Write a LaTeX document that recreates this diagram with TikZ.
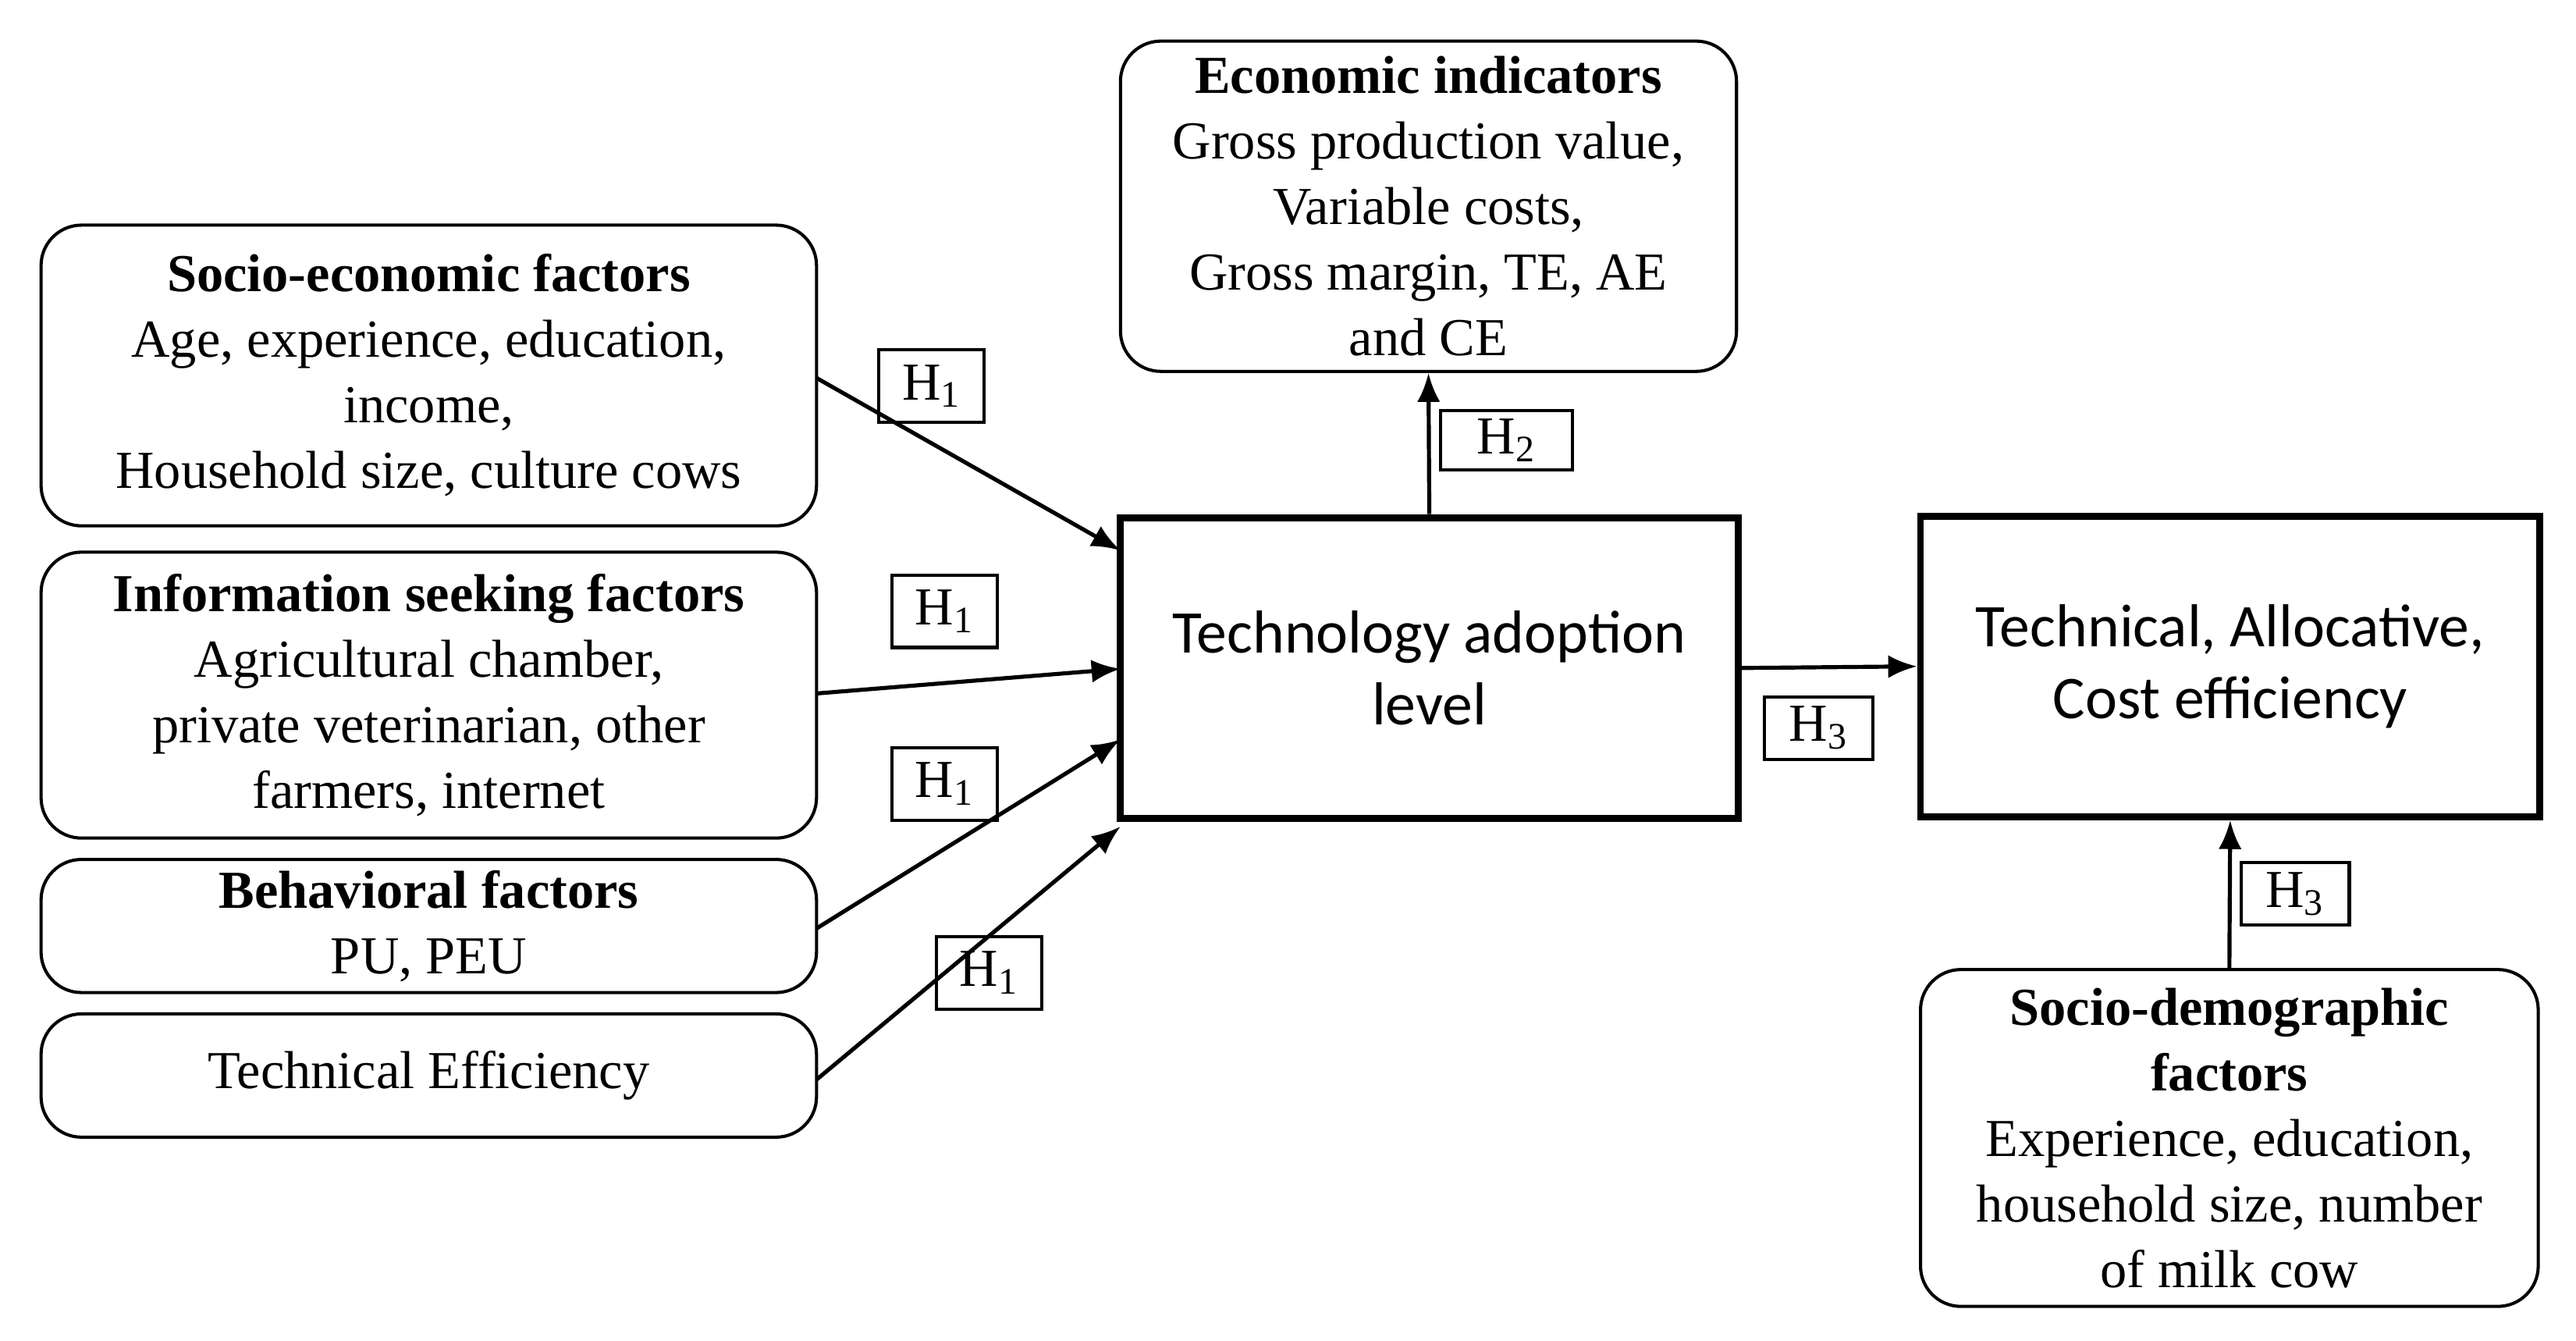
\documentclass[tikz,border=0pt]{standalone}
\usepackage{fontspec}
\setmainfont{Liberation Serif}
\newfontfamily\carl{Carlito}
\usetikzlibrary{arrows.meta}
\begin{document}
\begin{tikzpicture}[x=0.02cm,y=-0.02cm,
    factor/.style={draw, line width=1.1pt, rounded corners=14pt, align=center,
        font=\fontsize{18.5}{22.7}\selectfont, inner sep=0pt},
    level/.style={draw, line width=2.4pt, align=center,
        font=\carl\fontsize{21}{25}\selectfont, inner sep=0pt},
    hyp/.style={draw, line width=1.1pt, inner sep=0pt, font=\fontsize{18.5}{20}\selectfont},
    link/.style={line width=1.4pt, -{Latex[length=10pt,width=8pt]}}
]
\useasboundingbox (0,0) rectangle (1568,816);
    % factor boxes
    \node[factor, minimum width=472*0.02cm, minimum height=183*0.02cm] (socio) at (261,228.5)
        {\textbf{Socio-economic factors}\\Age, experience, education,\\income,\\Household size, culture cows};
    \node[factor, minimum width=472*0.02cm, minimum height=174*0.02cm] (info) at (261,423)
        {\textbf{Information seeking factors}\\Agricultural chamber,\\private veterinarian, other\\farmers, internet};
    \node[factor, minimum width=472*0.02cm, minimum height=81*0.02cm] (behav) at (261,563.5)
        {\textbf{Behavioral factors}\\PU, PEU};
    \node[factor, minimum width=472*0.02cm, minimum height=75*0.02cm] (techeff) at (261,654.5)
        {Technical Efficiency};
    \node[factor, minimum width=375*0.02cm, minimum height=201*0.02cm] (econ) at (869.5,125.5)
        {\textbf{Economic indicators}\\Gross production value,\\Variable costs,\\Gross margin, TE, AE\\and CE};
    \node[factor, minimum width=376*0.02cm, minimum height=205*0.02cm] (demo) at (1357,692.5)
        {\textbf{Socio-demographic}\\\textbf{factors}\\Experience, education,\\household size, number\\of milk cow};
    % central boxes
    \node[level, minimum width=376*0.02cm, minimum height=183*0.02cm] (adopt) at (870,406.5)
        {Technology adoption\\level};
    \node[level, minimum width=377*0.02cm, minimum height=183*0.02cm] (effic) at (1357.5,405.5)
        {Technical, Allocative,\\Cost efficiency};
    % arrow ends
    \coordinate (s1) at (497,230);
    \coordinate (t1) at (682,335);
    \coordinate (s2) at (497,422);
    \coordinate (t2) at (682,407);
    \coordinate (s3) at (497,565);
    \coordinate (t3) at (682,450);
    \coordinate (s4) at (497,657);
    \coordinate (t4) at (682,503);
    \draw[link] (s1) -- (t1);
    \draw[link] (s2) -- (t2);
    \draw[link] (s3) -- (t3);
    \draw[link] (s4) -- (t4);
    \draw[link] (adopt.north) -- (econ.south);
    \draw[link] (adopt.east) -- (effic.west);
    \draw[link] (demo.north) -- (effic.south);
    % hypotheses
    \node[hyp, minimum width=64*0.02cm, minimum height=44*0.02cm] (h1a) at (567,235) {H\textsubscript{1}};
    \node[hyp, minimum width=64*0.02cm, minimum height=44*0.02cm] (h1b) at (575,372) {H\textsubscript{1}};
    \node[hyp, minimum width=64*0.02cm, minimum height=44*0.02cm] (h1c) at (575,477) {H\textsubscript{1}};
    \node[hyp, minimum width=64*0.02cm, minimum height=44*0.02cm] (h1d) at (602,592) {H\textsubscript{1}};
    \node[hyp, minimum width=80*0.02cm, minimum height=36*0.02cm] (h2) at (917,268) {H\textsubscript{2}};
    \node[hyp, minimum width=66*0.02cm, minimum height=38*0.02cm] (h3a) at (1107,443) {H\textsubscript{3}};
    \node[hyp, minimum width=66*0.02cm, minimum height=38*0.02cm] (h3b) at (1397,544) {H\textsubscript{3}};
\end{tikzpicture}
\end{document}
